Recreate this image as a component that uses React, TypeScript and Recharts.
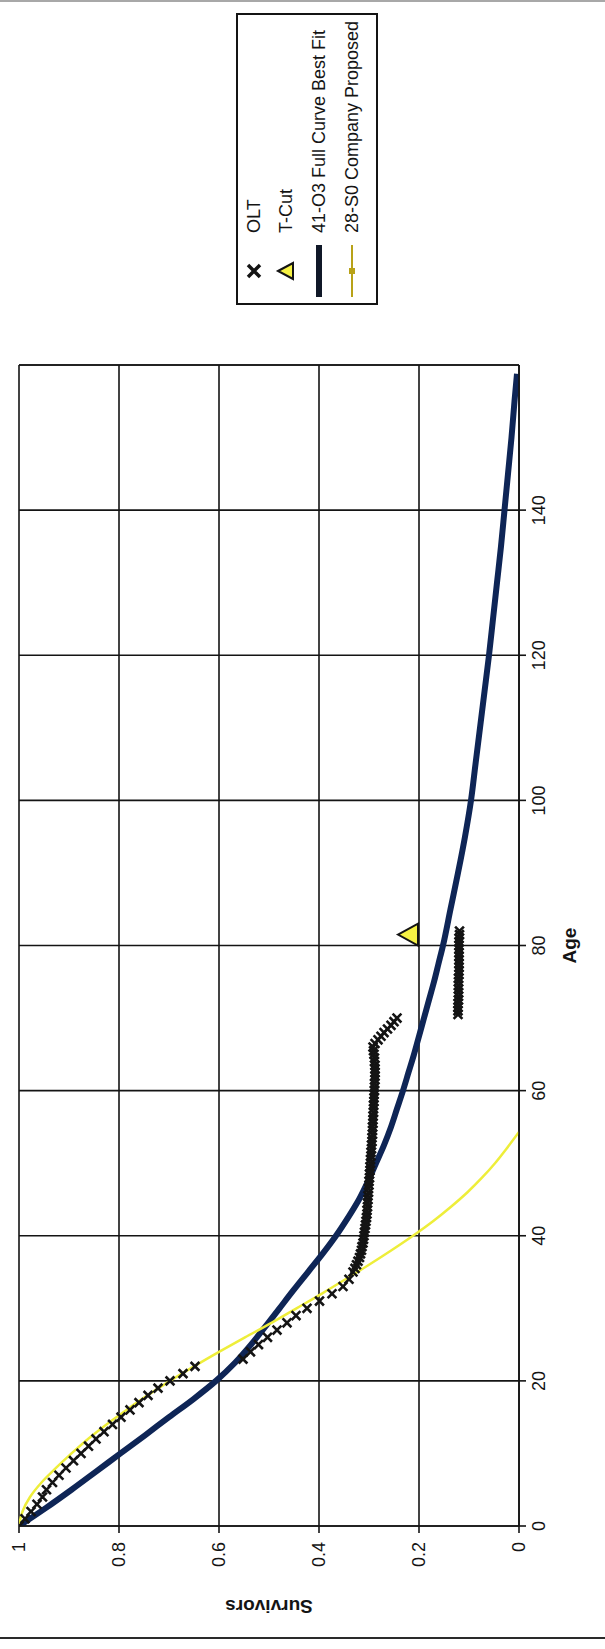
import React from 'react';
import { ComposedChart, Line, Scatter, XAxis, YAxis, CartesianGrid, ReferenceLine } from 'recharts';

// ---------- data ----------
const AGE_TICKS = [0, 20, 40, 60, 80, 100, 120, 140];
const SURV_TICKS = [0, 0.2, 0.4, 0.6, 0.8, 1];

const SERIES_NAMES = ['OLT', 'T-Cut', '41-O3 Full Curve Best Fit', '28-S0 Company Proposed'];

// OLT observed life table (age, survivors)
const OLT_EARLY: [number, number][] = [
  [0, 1.0], [1, 0.988], [2, 0.976], [3, 0.964], [4, 0.953], [5, 0.945], [6, 0.933], [7, 0.92],
  [8, 0.906], [9, 0.891], [10, 0.876], [11, 0.861], [12, 0.846], [13, 0.83], [14, 0.813],
  [15, 0.796], [16, 0.778], [17, 0.76], [18, 0.742], [19, 0.722], [20, 0.698], [21, 0.672],
  [22, 0.648], [23, 0.552], [24, 0.537], [25, 0.521], [26, 0.503], [27, 0.484], [28, 0.464],
  [29, 0.446], [30, 0.424], [31, 0.399], [32, 0.374], [33, 0.352], [34, 0.34], [35, 0.332],
];
const OLT_MIDDLE: [number, number][] = [
  [35.5, 0.328], [36, 0.325], [36.5, 0.322], [37, 0.319], [37.5, 0.317], [38, 0.315], [38.5, 0.314],
  [39, 0.312], [39.5, 0.311], [40, 0.31], [40.5, 0.309], [41, 0.308], [41.5, 0.307], [42, 0.306],
  [42.5, 0.305], [43, 0.304], [43.5, 0.304], [44, 0.303], [44.5, 0.303], [45, 0.302], [45.5, 0.302],
  [46, 0.301], [46.5, 0.301], [47, 0.3], [47.5, 0.3], [48, 0.299], [48.5, 0.299], [49, 0.298],
  [49.5, 0.298], [50, 0.297], [50.5, 0.297], [51, 0.296], [51.5, 0.296], [52, 0.295], [52.5, 0.295],
  [53, 0.294], [53.5, 0.294], [54, 0.293], [54.5, 0.293], [55, 0.293], [55.5, 0.292], [56, 0.292],
  [56.5, 0.292], [57, 0.291], [57.5, 0.291], [58, 0.291], [58.5, 0.29], [59, 0.29], [59.5, 0.29],
  [60, 0.289], [60.5, 0.289], [61, 0.289], [61.5, 0.288], [62, 0.288], [62.5, 0.288], [63, 0.288],
  [63.5, 0.288], [64, 0.289], [64.5, 0.289], [65, 0.29], [65.5, 0.291], [66, 0.292], [66.5, 0.288],
  [67, 0.282], [67.5, 0.276], [68, 0.27], [68.5, 0.263], [69, 0.256], [69.5, 0.25], [70, 0.244],
];
const OLT_LATE: [number, number][] = [
  [70.5, 0.122], [71, 0.122], [71.5, 0.122], [72, 0.122], [72.5, 0.121], [73, 0.121], [73.5, 0.121],
  [74, 0.121], [74.5, 0.121], [75, 0.121], [75.5, 0.121], [76, 0.12], [76.5, 0.12], [77, 0.12],
  [77.5, 0.12], [78, 0.12], [78.5, 0.12], [79, 0.12], [79.5, 0.12], [80, 0.12], [80.5, 0.12],
  [81, 0.12], [81.5, 0.119], [82, 0.119],
];
const TCUT: [number, number][] = [[81.5, 0.22]];

const FIT_41_O3: [number, number][] = [
  [0, 1], [2.5, 0.946], [5, 0.895], [7.5, 0.846], [10, 0.797], [12.5, 0.748], [15, 0.7],
  [17.5, 0.651], [20, 0.606], [22.5, 0.568], [25, 0.536], [27.5, 0.507], [30, 0.479], [32.5, 0.451],
  [35, 0.422], [37.5, 0.393], [40, 0.366], [42.5, 0.342], [45, 0.32], [47.5, 0.302], [50, 0.286],
  [52.5, 0.27], [55, 0.256], [57.5, 0.244], [60, 0.232], [62.5, 0.221], [65, 0.21], [67.5, 0.2],
  [70, 0.19], [72.5, 0.18], [75, 0.17], [77.5, 0.161], [80, 0.152], [85, 0.137], [90, 0.122],
  [95, 0.108], [100, 0.096], [105, 0.087], [110, 0.078], [115, 0.069], [120, 0.06], [125, 0.052],
  [130, 0.044], [135, 0.036], [140, 0.029], [145, 0.022], [150, 0.015], [155, 0.009], [158.8, 0.004],
];

const PROPOSED_28_S0: [number, number][] = [
  [0, 1], [2, 0.993], [4, 0.978], [6, 0.955], [8, 0.926], [10, 0.895], [12, 0.862], [14, 0.825],
  [16, 0.785], [18, 0.743], [20, 0.698], [22, 0.65], [24, 0.6], [26, 0.548], [28, 0.495],
  [30, 0.445], [32, 0.395], [34, 0.347], [36, 0.3], [38, 0.255], [40, 0.212], [42, 0.172],
  [44, 0.136], [46, 0.103], [48, 0.074], [50, 0.048], [52, 0.025], [54.3, 0],
];

const toPts = (arr: [number, number][]) => arr.map(([age, s]) => ({ age, s }));
const oltPts = toPts([...OLT_EARLY, ...OLT_MIDDLE, ...OLT_LATE]);
const tcutPts = toPts(TCUT);
const fitPts = toPts(FIT_41_O3);
const propPts = toPts(PROPOSED_28_S0);

// ---------- layout (chart drawn landscape, then turned a quarter turn) ----------
const W = 1649;
const H = 605;
const FONT = '"Liberation Sans", Arial, sans-serif';
const INK = '#141414';
const NAVY = '#0e2556';
const YELLOW = '#eeee3a';

const XMark = (props: any) => {
  const { cx, cy } = props;
  if (cx == null || cy == null) return null;
  const r = 4.4;
  return (
    <path
      d={`M${cx - r},${cy - r}L${cx + r},${cy + r}M${cx - r},${cy + r}L${cx + r},${cy - r}`}
      stroke={INK}
      strokeWidth={2.6}
      fill="none"
    />
  );
};

const TriMark = (props: any) => {
  const { cx, cy } = props;
  if (cx == null || cy == null) return null;
  return (
    <path
      d={`M${cx},${cy - 11}L${cx + 11},${cy + 9}L${cx - 11},${cy + 9}Z`}
      fill="#f6f244"
      stroke={INK}
      strokeWidth={2}
    />
  );
};

const yTitle = (p: any) => {
  const vb = p && p.viewBox ? p.viewBox : { x: 0, y: 19, width: 123, height: 500 };
  const cx = vb.x + 43;
  const cy = vb.y + vb.height / 2;
  return (
    <text
      x={cx}
      y={cy}
      transform={`rotate(-90 ${cx} ${cy})`}
      textAnchor="middle"
      dominantBaseline="central"
      fontFamily={FONT}
      fontWeight="bold"
      fontSize={19}
      fill={INK}
    >
      Survivors
    </text>
  );
};

const xTitle = (p: any) => {
  const vb = p && p.viewBox ? p.viewBox : { x: 123, y: 519, width: 1161, height: 86 };
  const cx = vb.x + vb.width / 2;
  const cy = vb.y + 50;
  return (
    <text
      x={cx}
      y={cy}
      textAnchor="middle"
      dominantBaseline="central"
      fontFamily={FONT}
      fontWeight="bold"
      fontSize={19}
      fill={INK}
    >
      Age
    </text>
  );
};

function LegendBox() {
  const rows = [16, 48, 81, 114];
  const sx = 32;
  const tx = 70;
  return (
    <div
      style={{
        position: 'absolute',
        left: 1344,
        top: 236,
        width: 292,
        height: 142,
        border: `2px solid ${INK}`,
        boxSizing: 'border-box',
        background: '#fff',
      }}
    >
      <svg width={288} height={138} style={{ display: 'block' }}>
        <path
          d={`M${sx - 6},${rows[0] - 6}L${sx + 6},${rows[0] + 6}M${sx - 6},${rows[0] + 6}L${sx + 6},${rows[0] - 6}`}
          stroke={INK}
          strokeWidth={3.5}
        />
        <path
          d={`M${sx},${rows[1] - 8}L${sx + 8},${rows[1] + 7}L${sx - 8},${rows[1] + 7}Z`}
          fill="#f6f244"
          stroke={INK}
          strokeWidth={2}
        />
        <line x1={6} x2={58} y1={rows[2]} y2={rows[2]} stroke="#101828" strokeWidth={6} />
        <line x1={6} x2={58} y1={rows[3]} y2={rows[3]} stroke="#b8a218" strokeWidth={2} />
        <rect x={sx - 3} y={rows[3] - 3} width={6} height={6} fill="#b8a218" />
        {SERIES_NAMES.map((name, i) => (
          <text
            key={name}
            x={tx}
            y={rows[i]}
            dominantBaseline="central"
            fontFamily={FONT}
            fontSize={18}
            fill={INK}
          >
            {name}
          </text>
        ))}
      </svg>
    </div>
  );
}

function Chart() {
  return (
    <div style={{ position: 'relative', width: W, height: H, background: '#fff' }}>
      <ComposedChart
        width={W}
        height={H}
        margin={{ top: 19, right: 365, bottom: 0, left: 0 }}
        style={{ fontFamily: FONT }}
      >
        <CartesianGrid stroke={INK} strokeWidth={1.6} />
        <XAxis
          type="number"
          dataKey="age"
          domain={[0, 160]}
          ticks={AGE_TICKS}
          interval={0}
          allowDataOverflow
          height={86}
          tickSize={7}
          tickMargin={6}
          axisLine={{ stroke: INK, strokeWidth: 1.6 }}
          tickLine={{ stroke: INK, strokeWidth: 1.6 }}
          tick={{ fill: INK, fontSize: 18, fontFamily: FONT }}
          label={xTitle}
        />
        <YAxis
          type="number"
          dataKey="s"
          domain={[0, 1]}
          ticks={SURV_TICKS}
          interval={0}
          allowDataOverflow
          width={123}
          tickSize={7}
          tickMargin={9}
          axisLine={{ stroke: INK, strokeWidth: 1.6 }}
          tickLine={{ stroke: INK, strokeWidth: 1.6 }}
          tick={{ fill: INK, fontSize: 18, fontFamily: FONT }}
          tickFormatter={(v: number) => (v === 0 || v === 1 ? String(v) : v.toFixed(1))}
          label={yTitle}
        />
        <ReferenceLine x={160} stroke={INK} strokeWidth={1.6} />
        <Scatter name={SERIES_NAMES[0]} data={oltPts} dataKey="s" shape={XMark} isAnimationActive={false} />
        <Scatter name={SERIES_NAMES[1]} data={tcutPts} dataKey="s" shape={TriMark} isAnimationActive={false} />
        <Line
          name={SERIES_NAMES[2]}
          data={fitPts}
          dataKey="s"
          type="monotone"
          stroke={NAVY}
          strokeWidth={6}
          dot={false}
          isAnimationActive={false}
        />
        <Line
          name={SERIES_NAMES[3]}
          data={propPts}
          dataKey="s"
          type="monotone"
          stroke={YELLOW}
          strokeWidth={2.5}
          dot={false}
          isAnimationActive={false}
        />
      </ComposedChart>
      <LegendBox />
    </div>
  );
}

export default function App() {
  return (
    <div
      style={{
        position: 'absolute',
        left: 0,
        top: 0,
        width: 605,
        height: 1649,
        overflow: 'hidden',
        background: '#fff',
      }}
    >
      <div
        style={{
          position: 'absolute',
          left: 0,
          top: 0,
          width: W,
          height: H,
          transformOrigin: '0 0',
          transform: `translateY(${W}px) rotate(-90deg)`,
        }}
      >
        <Chart />
      </div>
      <div style={{ position: 'absolute', left: 0, top: 0, width: 605, height: 2, background: '#a8a8a8' }} />
      <div style={{ position: 'absolute', left: 0, top: 1637, width: 605, height: 2, background: '#2a2a2a' }} />
    </div>
  );
}
